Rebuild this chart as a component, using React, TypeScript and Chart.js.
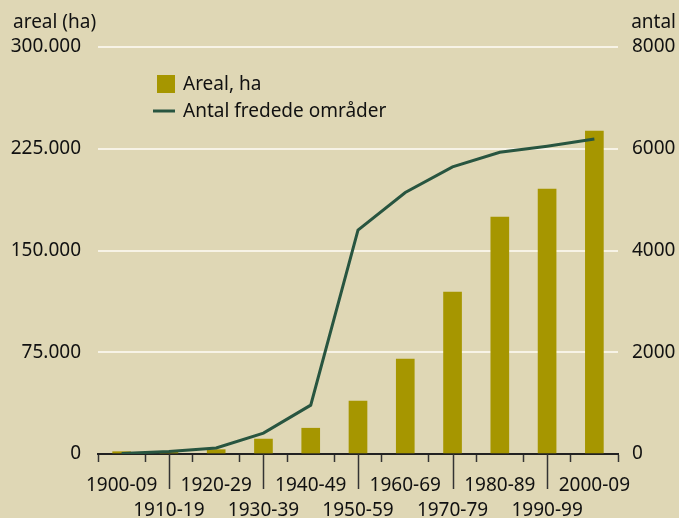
import React, { useEffect, useRef } from "react";
import { Chart, registerables } from "chart.js";

Chart.register(...registerables);

const categories = [
  "1900-09", "1910-19", "1920-29", "1930-39", "1940-49", "1950-59",
  "1960-69", "1970-79", "1980-89", "1990-99", "2000-09",
];
const arealHa = [1700, 1300, 3200, 11000, 19000, 39000, 70000, 119400, 174700, 195300, 238000];
const antalOmraader = [10, 50, 120, 410, 960, 4400, 5140, 5645, 5930, 6050, 6190];
const leftTicks = [0, 75000, 150000, 225000, 300000];
const rightTicks = [0, 2000, 4000, 6000, 8000];

const BG = "#dfd7b5";
const BAR = "#a69600";
const LINE = "#285540";
const TEXT = "#111111";
const FONT = "'Noto Sans', sans-serif";
const FS = 19;

const fmtDk = (v: number) => {
  if (v === 0) return "0";
  return Math.round(v).toString().replace(/\B(?=(\d{3})+(?!\d))/g, ".");
};

export default function App() {
  const ref = useRef<HTMLCanvasElement | null>(null);

  useEffect(() => {
    document.body.style.margin = "0";
    const canvas = ref.current;
    if (!canvas) return;

    const overlay = {
      id: "overlay",
      afterDraw(chart: any) {
        const ctx = chart.ctx;
        const x = chart.scales.x;
        const area = chart.chartArea;
        ctx.save();
        // long ticks for odd categories
        ctx.strokeStyle = "#333333";
        ctx.lineWidth = 1.5;
        categories.forEach((_, i) => {
          if (i % 2 === 1) {
            const px = Math.round(x.getPixelForValue(i)) + 0.5;
            ctx.beginPath();
            ctx.moveTo(px, area.bottom);
            ctx.lineTo(px, area.bottom + 35);
            ctx.stroke();
          }
        });
        // axis titles
        ctx.fillStyle = TEXT;
        ctx.font = `${FS}px ${FONT}`;
        ctx.textBaseline = "alphabetic";
        ctx.textAlign = "left";
        ctx.fillText("areal (ha)", 13, 28);
        ctx.textAlign = "right";
        ctx.fillText("antal", 676, 28);
        // legend
        const ds = chart.data.datasets;
        const bar = ds.find((d: any) => d.type === "bar");
        const line = ds.find((d: any) => d.type === "line");
        ctx.textAlign = "left";
        ctx.textBaseline = "middle";
        ctx.fillStyle = bar.backgroundColor;
        ctx.fillRect(157, 75, 18, 18);
        ctx.fillStyle = TEXT;
        ctx.fillText(bar.label, 183, 85);
        ctx.strokeStyle = line.borderColor;
        ctx.lineWidth = 3;
        ctx.beginPath();
        ctx.moveTo(153, 111);
        ctx.lineTo(175, 111);
        ctx.stroke();
        ctx.fillStyle = TEXT;
        ctx.fillText(line.label, 183, 112);
        ctx.restore();
      },
    };

    const chart = new Chart(canvas, {
      data: {
        labels: categories.map((c, i) => (i % 2 === 1 ? ["", c] : [c])),
        datasets: [
          {
            type: "line",
            label: "Antal fredede områder",
            data: antalOmraader,
            yAxisID: "y1",
            borderColor: LINE,
            backgroundColor: LINE,
            borderWidth: 3,
            pointRadius: 0,
            tension: 0,
            order: 0,
          },
          {
            type: "bar",
            label: "Areal, ha",
            data: arealHa,
            yAxisID: "y",
            backgroundColor: BAR,
            barThickness: 18,
            order: 1,
          },
        ],
      } as any,
      options: {
        animation: false,
        responsive: false,
        maintainAspectRatio: false,
        layout: { padding: { top: 47, left: 0, right: 0, bottom: 0 } },
        plugins: {
          legend: { display: false },
          tooltip: { enabled: false },
        },
        scales: {
          x: {
            grid: {
              display: true,
              drawOnChartArea: false,
              drawTicks: true,
              tickLength: 8,
              tickColor: "#333333",
              tickWidth: 1.5,
            },
            border: { display: true, color: "#222222", width: 2 },
            ticks: {
              color: TEXT,
              font: { family: FONT, size: FS, lineHeight: 1.33 },
              padding: 11,
              maxRotation: 0,
              autoSkip: false,
            },
            afterFit: (s: any) => {
              s.height = 64;
            },
          },
          y: {
            position: "left",
            min: 0,
            max: 300000,
            afterBuildTicks: (s: any) => {
              s.ticks = leftTicks.map((v) => ({ value: v }));
            },
            grid: {
              color: (c: any) => (c.tick && c.tick.value === 0 ? "rgba(0,0,0,0)" : "#f7f3e6"),
              lineWidth: 2,
              drawTicks: false,
            },
            border: { display: false },
            ticks: {
              color: TEXT,
              font: { family: FONT, size: FS },
              padding: 17,
              callback: (v: any) => fmtDk(Number(v)),
            },
            afterFit: (s: any) => {
              s.width = 98;
            },
          },
          y1: {
            position: "right",
            min: 0,
            max: 8000,
            afterBuildTicks: (s: any) => {
              s.ticks = rightTicks.map((v) => ({ value: v }));
            },
            grid: { drawOnChartArea: false, drawTicks: false },
            border: { display: false },
            ticks: {
              color: TEXT,
              font: { family: FONT, size: FS },
              padding: 14,
              callback: (v: any) => String(v),
            },
            afterFit: (s: any) => {
              s.width = 61;
            },
          },
        },
      } as any,
      plugins: [overlay],
    });

    return () => chart.destroy();
  }, []);

  return (
    <div style={{ width: 679, height: 518, background: BG }}>
      <canvas ref={ref} width={679} height={518} style={{ display: "block" }} />
    </div>
  );
}
